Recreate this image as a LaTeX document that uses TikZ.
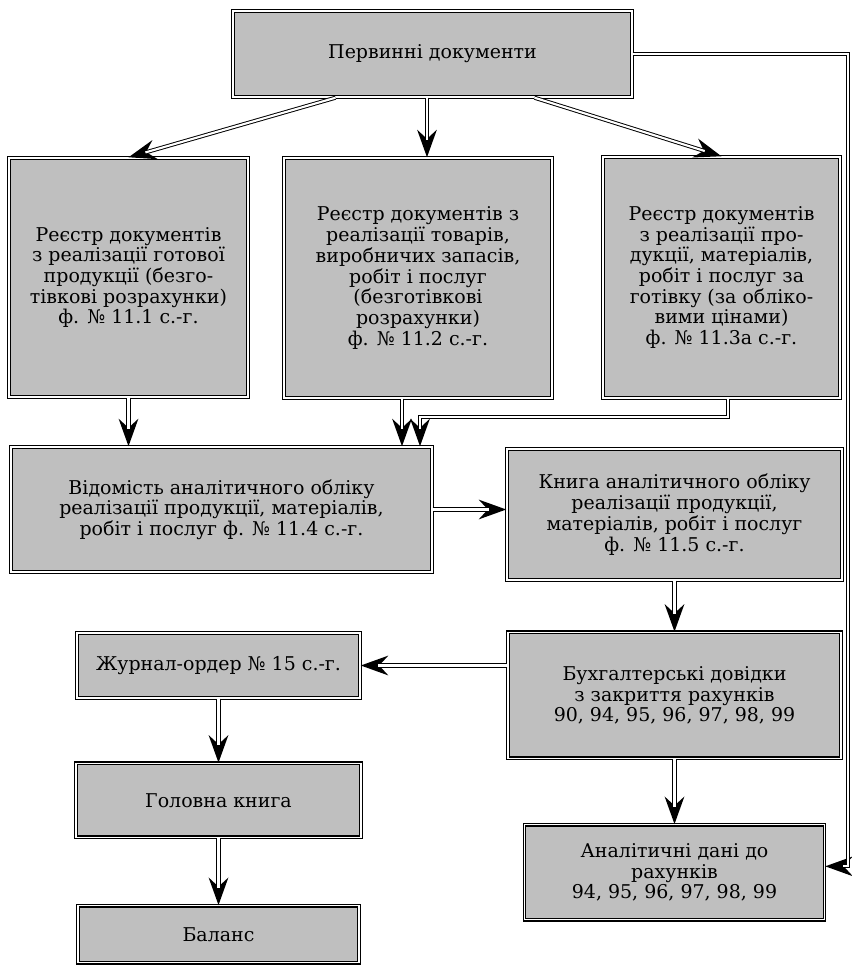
\documentclass[tikz,border=0pt]{standalone}
\usepackage{fontspec}
\setmainfont{DejaVu Serif}
\usetikzlibrary{arrows.meta,positioning}
\newcommand{\boxfont}{\fontsize{10.8}{11.8}\selectfont}

\begin{document}
\begin{tikzpicture}
   \tikzstyle{box}=[rectangle,draw,double,double distance=0.6pt,line width=0.8pt,fill=black!25,align=center,inner sep=1pt,font=\boxfont]
   \tikzstyle{ar}=[draw=white,line width=1.2pt,shorten >=10pt,
      preaction={draw=black,line width=2.3pt,shorten >=0pt,-{Stealth[length=15.5pt,width=11pt,inset=5pt]}}]

   \useasboundingbox (0,0) rectangle (17.02,-19.36) ;

   \node (top) [box,minimum width=7.98cm,minimum height=1.72cm] at (8.65,-1.08) {Первинні документи} ;
   \node (b1) [box,minimum width=4.78cm,minimum height=4.78cm] at (2.57,-5.55)
      {Реєстр документів\\з реалізації готової\\продукції (безго-\\тівкові розрахунки)\\ф. № 11.1 с.-г.} ;
   \node (b2) [box,minimum width=5.36cm,minimum height=4.8cm] at (8.36,-5.56)
      {Реєстр документів з\\реалізації товарів,\\виробничих запасів,\\робіт і послуг\\(безготівкові\\розрахунки)\\ф. № 11.2 с.-г.} ;
   \node (b3) [box,minimum width=4.74cm,minimum height=4.82cm] at (14.43,-5.55)
      {Реєстр документів\\з реалізації про-\\дукції, матеріалів,\\робіт і послуг за\\готівку (за обліко-\\вими цінами)\\ф. № 11.3а с.-г.} ;
   \node (b4) [box,minimum width=8.42cm,minimum height=2.5cm] at (4.43,-10.19)
      {Відомість аналітичного обліку\\реалізації продукції, матеріалів,\\робіт і послуг ф. № 11.4 с.-г.} ;
   \node (b5) [box,minimum width=6.7cm,minimum height=2.62cm] at (13.49,-10.29)
      {Книга аналітичного обліку\\реалізації продукції,\\матеріалів, робіт і послуг\\ф. № 11.5 с.-г.} ;
   \node (b6) [box,minimum width=6.66cm,minimum height=2.52cm,below=1.02cm of b5]
      {Бухгалтерські довідки\\з закриття рахунків\\90, 94, 95, 96, 97, 98, 99} ;
   \node (an) [box,minimum width=6cm,minimum height=1.9cm,below=1.3cm of b6]
      {Аналітичні дані до\\рахунків\\94, 95, 96, 97, 98, 99} ;
   \node (jour) [box,minimum width=5.66cm,minimum height=1.3cm] at (4.37,-13.31) {Журнал-ордер № 15 с.-г.} ;
   \node (gol) [box,minimum width=5.7cm,minimum height=1.48cm,below=1.28cm of jour] {Головна книга} ;
   \node (bal) [box,minimum width=5.62cm,minimum height=1.14cm,below=1.34cm of gol] {Баланс} ;

   \coordinate (topmid) at ([xshift=-0.11cm]top.south) ;
   \coordinate (b2out) at ([xshift=-0.32cm]b2.south) ;
   \coordinate (b3turn) at (8.4,-8.34) ;
   \coordinate (rail) at (16.96,-1.04) ;
   \coordinate (anin) at ([yshift=0.12cm]an.east) ;

   \draw [ar] ([xshift=-1.94cm]top.south) -- (b1.north) ;
   \draw [ar] (topmid) -- (topmid |- b2.north) ;
   \draw [ar] ([xshift=2.04cm]top.south) -- (b3.north) ;
   \draw [ar] (top.east) -- (top.east -| rail) -- (rail |- anin) -- (anin) ;
   \draw [ar] (b1.south) -- (b1.south |- b4.north) ;
   \draw [ar] (b2out) -- (b2out |- b4.north) ;
   \draw [ar] ([xshift=0.13cm]b3.south) |- (b3turn) -- (b3turn |- b4.north) ;
   \draw [ar] (b4.east) -- (b4.east -| b5.west) ;
   \draw [ar] (b5.south) -- (b6.north) ;
   \draw [ar] (jour.east -| b6.west) -- (jour.east) ;
   \draw [ar] (b6.south) -- (an.north) ;
   \draw [ar] (jour.south) -- (gol.north) ;
   \draw [ar] (gol.south) -- (bal.north) ;
\end{tikzpicture}
\end{document}
